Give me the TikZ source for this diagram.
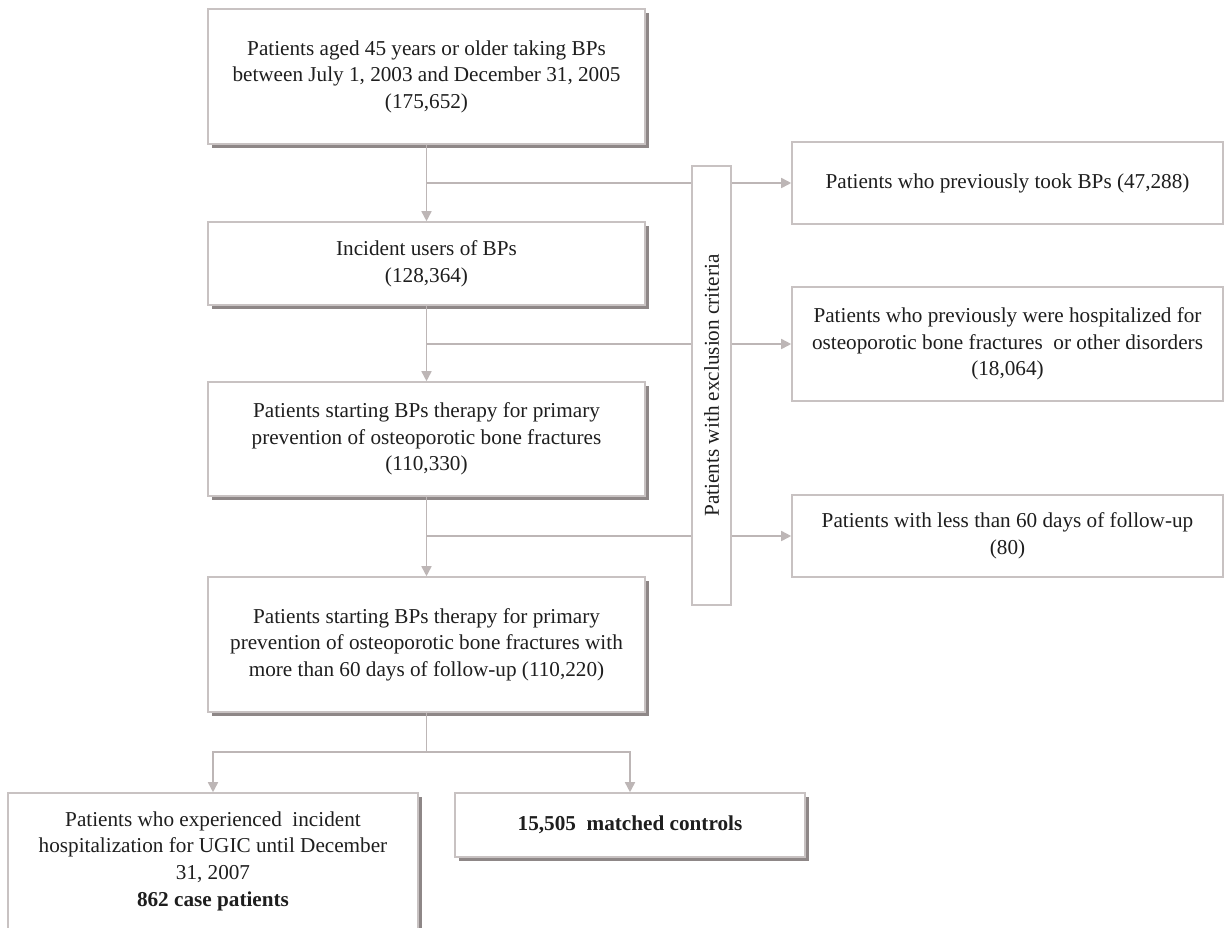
\documentclass[tikz,border=0pt]{standalone}
\usepackage{fontspec}
\setmainfont{Liberation Serif}
\usetikzlibrary{arrows.meta,shadows}
\definecolor{boxline}{HTML}{C8C2C2}
\definecolor{conline}{HTML}{BDB6B6}
\definecolor{shadowc}{HTML}{8E8787}
\definecolor{txt}{HTML}{1E1E1E}
\tikzset{
  base/.style={draw=boxline, line width=0.8pt, fill=white, align=center, inner sep=2pt, text=txt,
    font=\fontsize{10.6}{13.3}\selectfont},
  mainbox/.style={base, drop shadow={shadow xshift=2pt, shadow yshift=-2pt, fill=shadowc, opacity=1}},
  flatbox/.style={base},
  conn/.style={draw=conline, line width=0.8pt},
  arr/.style={conn, -{Triangle[length=5pt,width=5pt,fill=conline]}},
}
\begin{document}
\begin{tikzpicture}[x=0.5pt,y=-0.5pt]
\useasboundingbox (0,0) rectangle (1224,927);
\fill[white] (0,0) rectangle (1224,927);

% main column
\node[mainbox, minimum width=218.5pt, minimum height=67.5pt] (b1) at (426.5,76.5)
  {Patients aged 45 years or older taking BPs\\between July 1, 2003 and December 31, 2005\\(175,652)};
\node[mainbox, minimum width=218.5pt, minimum height=41.5pt] (b2) at (426.5,263.5)
  {Incident users of BPs\\(128,364)};
\node[mainbox, minimum width=218.5pt, minimum height=57pt] (b3) at (426.5,439)
  {Patients starting BPs therapy for primary\\prevention of osteoporotic bone fractures\\(110,330)};
\node[mainbox, minimum width=218.5pt, minimum height=67.5pt] (b4) at (426.5,644.5)
  {Patients starting BPs therapy for primary\\prevention of osteoporotic bone fractures with\\more than 60 days of follow-up (110,220)};

% exclusion box
\node[flatbox, minimum width=19.5pt, minimum height=219.5pt] (excl) at (711.5,385.5) {};
\node[rotate=90, text=txt, font=\fontsize{10.6}{13.3}\selectfont, inner sep=0pt] (excltext) at (excl.center)
  {Patients with exclusion criteria};

% right boxes
\node[flatbox, minimum width=215.5pt, minimum height=41pt] (r1) at (1007.5,183)
  {Patients who previously took BPs (47,288)};
\node[flatbox, minimum width=215.5pt, minimum height=57pt] (r2) at (1007.5,344)
  {Patients who previously were hospitalized for\\osteoporotic bone fractures\ \ or other disorders\\(18,064)};
\node[flatbox, minimum width=215.5pt, minimum height=41pt] (r3) at (1007.5,536)
  {Patients with less than 60 days of follow-up\\(80)};

% bottom boxes
\node[mainbox, minimum width=205pt, minimum height=68pt] (bl) at (213,861)
  {Patients who experienced\ \ incident\\hospitalization for UGIC until December\\31, 2007\\\textbf{862 case patients}};
\node[mainbox, minimum width=175pt, minimum height=32pt] (br) at (630,825)
  {\textbf{15,505\ \ matched controls}};

% junction coordinates
\coordinate (j1) at (426.5,183);
\coordinate (j2) at (426.5,344);
\coordinate (j3) at (426.5,536);
\coordinate (j4) at (426.5,752);

% main flow
\draw[arr] (b1.south) -- (b2.north);
\draw[arr] (b2.south) -- (b3.north);
\draw[arr] (b3.south) -- (b4.north);

% branches to exclusion
\draw[conn] (j1) -- (excl.west |- j1);
\draw[conn] (j2) -- (excl.west |- j2);
\draw[conn] (j3) -- (excl.west |- j3);
\draw[arr] (excl.east |- r1.west) -- (r1.west);
\draw[arr] (excl.east |- r2.west) -- (r2.west);
\draw[arr] (excl.east |- r3.west) -- (r3.west);

% split to bottom
\draw[conn] (b4.south) -- (j4);
\draw[arr] (j4) -| (bl.north);
\draw[arr] (j4) -| (br.north);
\end{tikzpicture}
\end{document}
